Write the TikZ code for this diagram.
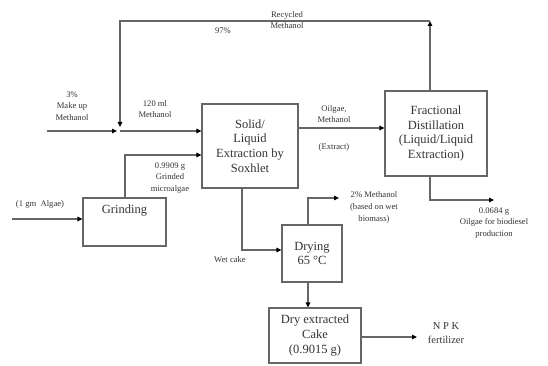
\documentclass[tikz,border=0pt]{standalone}
\usepackage{fontspec}
\setmainfont{Liberation Serif}
\usetikzlibrary{arrows.meta}
\begin{document}
\begin{tikzpicture}[x=1pt,y=-1pt,
  box/.style={draw=black!60, line width=1.2pt, fill=white, inner sep=0pt, align=center, text=black!80},
  bigtxt/.style={font=\fontsize{12.5}{14.8}\selectfont},
  lbl/.style={align=center, inner sep=0pt, text=black!80, font=\fontsize{8.6}{11.6}\selectfont},
  flow/.style={draw=black!60, line width=1.3pt, -{Triangle[length=5pt,width=4.5pt,fill=black,color=black]}},
  plain/.style={draw=black!60, line width=1.3pt}]
\useasboundingbox (0,0) rectangle (548,366);
% boxes
\node[box,bigtxt,minimum width=96pt,minimum height=84pt] (solid) at (250,146) {Solid/\\Liquid\\Extraction by\\Soxhlet};
\node[box,bigtxt,minimum width=102pt,minimum height=85pt] (frac) at (436,133.5) {Fractional\\Distillation\\(Liquid/Liquid\\Extraction)};
\node[box,minimum width=83pt,minimum height=48pt] (grind) at (124.5,222) {};
\node[bigtxt,inner sep=0pt,text=black!80] (grindtxt) at (124.5,211) {Grinding};
\node[box,bigtxt,minimum width=60pt,minimum height=57pt] (dry) at (312,253.5) {Drying\\65 \textdegree C};
\node[box,bigtxt,minimum width=92pt,minimum height=55pt] (cake) at (315,335.5) {Dry extracted\\Cake\\(0.9015 g)};
% coordinates
\coordinate (rtop) at (430,21);
\coordinate (ltop) at (120,21);
\coordinate (ljoin) at (120,127);
\coordinate (mstart) at (47,131);
\coordinate (mend) at (117,131);
\coordinate (mjoin) at (120,131);
\coordinate (gcorner) at (125,155);
\coordinate (astart) at (12,219);
\coordinate (y128) at (0,128);
\coordinate (wcorner) at (242,250);
\coordinate (dcorner) at (308,198);
\coordinate (dend) at (339,198);
\coordinate (fcorner) at (430,200);
\coordinate (fend) at (494,200);
\coordinate (npk) at (417,337);
% connectors
\draw[flow] (frac.north -| rtop) -- (rtop);
\draw[flow] (rtop) -- (ltop) -- (ljoin);
\draw[flow] (mstart) -- (mend);
\draw[flow] (mjoin) -- (solid.west |- mjoin);
\draw[flow] (grind.north -| gcorner) -- (gcorner) -- (solid.west |- gcorner);
\draw[flow] (astart) -- (grind.west |- astart);
\draw[flow] (solid.east |- y128) -- (frac.west |- y128);
\draw[flow] (solid.south -| wcorner) -- (wcorner) -- (dry.west |- wcorner);
\draw[flow] (dry.north -| dcorner) -- (dcorner) -- (dend);
\draw[flow] (frac.south -| fcorner) -- (fcorner) -- (fend);
\draw[flow] (dry.south -| dcorner) -- (cake.north -| dcorner);
\draw[flow] (cake.east |- npk) -- (npk);
% labels
\node[lbl] (l1) at (287,20) {Recycled\\Methanol};
\node[lbl] (l2) at (223,31) {97\%};
\node[lbl] (l3) at (72,106) {3\%\\Make up\\Methanol};
\node[lbl] (l4) at (155,109) {120 ml\\Methanol};
\node[lbl] (l5) at (334,114) {Oilgae,\\Methanol};
\node[lbl] (l6) at (334,147) {(Extract)};
\node[lbl] (l7) at (170,178) {0.9909 g\\Grinded\\microalgae};
\node[lbl] (l8) at (40,204) {(1 gm\ \ Algae)};
\node[lbl] (l9) at (230,260) {Wet cake};
\node[lbl] (l10) at (374,207.5) {2\% Methanol\\(based on wet\\biomass)};
\node[lbl] (l11) at (494,223) {0.0684 g\\Oilgae for biodiesel\\production};
\node[lbl,font=\fontsize{10.5}{14}\selectfont] (l12) at (446,333) {N P K\\fertilizer};
\end{tikzpicture}
\end{document}
